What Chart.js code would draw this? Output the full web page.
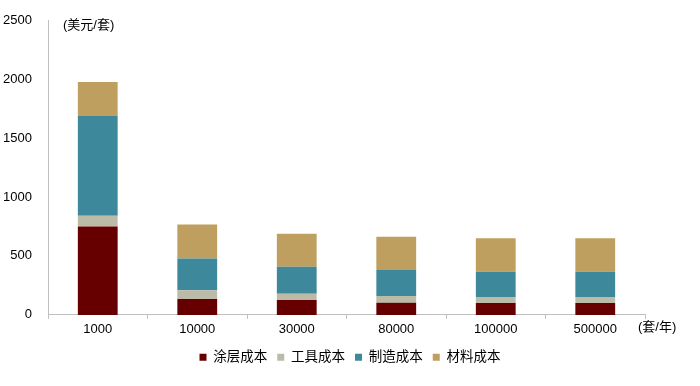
<!DOCTYPE html>
<html>
<head>
<meta charset="utf-8">
<script src="https://cdn.jsdelivr.net/npm/chart.js@4"></script>
<style>
  body { margin: 0; background: #fff; }
  #wrap { width: 700px; height: 386px; }
</style>
</head>
<body>
<div id="wrap"><canvas id="myChart"></canvas></div>
<script>
// 数据
var categories = ['1000', '10000', '30000', '80000', '100000', '500000'];
var coatingCost = [750, 135, 126, 103, 100, 100];        // 涂层成本
var toolingCost = [90, 73, 54, 57, 52, 52];              // 工具成本
var manufacturingCost = [850, 270, 229, 220, 214, 214];  // 制造成本
var materialCost = [285, 288, 280, 283, 283, 283];       // 材料成本
var yTicks = [0, 500, 1000, 1500, 2000, 2500];

var FONT = "'Liberation Sans', 'Noto Sans CJK SC', Arial, sans-serif";

// 单位标注
var unitLabels = {
    id: 'unitLabels',
    afterDraw: function(chart) {
        var ctx = chart.ctx;
        ctx.save();
        ctx.fillStyle = '#000';
        ctx.font = '13px ' + FONT;
        ctx.textBaseline = 'middle';
        ctx.textAlign = 'left';
        ctx.fillText('(美元/套)', 63, 25);
        ctx.fillText('(套/年)', 638, 327);
        ctx.restore();
    }
};

window.onload = function() {
    var ctx = document.getElementById('myChart').getContext('2d');
    new Chart(ctx, {
        type: 'bar',
        data: {
            labels: categories,
            datasets: [
                { label: '涂层成本', data: coatingCost, backgroundColor: '#660000' },
                { label: '工具成本', data: toolingCost, backgroundColor: '#BBBBA8' },
                { label: '制造成本', data: manufacturingCost, backgroundColor: '#3D899B' },
                { label: '材料成本', data: materialCost, backgroundColor: '#BF9F5F' }
            ]
        },
        options: {
            responsive: true,
            maintainAspectRatio: false,
            animation: false,
            datasets: { bar: { barPercentage: 0.5, categoryPercentage: 0.8 } },
            layout: { padding: { top: 20, right: 0, left: 0, bottom: 12 } },
            plugins: {
                legend: {
                    position: 'bottom',
                    labels: {
                        boxWidth: 7, boxHeight: 7, padding: 10,
                        color: '#000',
                        font: { family: FONT, size: 13.5 }
                    }
                },
                tooltip: { enabled: false }
            },
            scales: {
                x: {
                    stacked: true,
                    offset: true,
                    grid: { display: true, drawOnChartArea: false, drawTicks: true, tickLength: 4, color: '#BFBFBF', offset: true },
                    border: { display: true, color: '#BFBFBF' },
                    ticks: { color: '#000', padding: 3, font: { family: FONT, size: 13 }, maxRotation: 0 }
                },
                y: {
                    stacked: true,
                    min: yTicks[0],
                    max: yTicks[yTicks.length - 1],
                    afterFit: function(scale) { scale.width = 48; },
                    afterBuildTicks: function(scale) {
                        scale.ticks = yTicks.map(function(v) { return { value: v }; });
                    },
                    grid: { display: false },
                    border: { display: true, color: '#BFBFBF' },
                    ticks: {
                        color: '#000', padding: 8, font: { family: FONT, size: 13 },
                        callback: function(v) { return String(v); }
                    }
                },
                // 右侧留白
                yRight: {
                    position: 'right',
                    display: true,
                    afterFit: function(scale) { scale.width = 55; },
                    grid: { display: false },
                    border: { display: false },
                    ticks: { display: false }
                }
            }
        },
        plugins: [unitLabels]
    });
};
</script>
</body>
</html>
